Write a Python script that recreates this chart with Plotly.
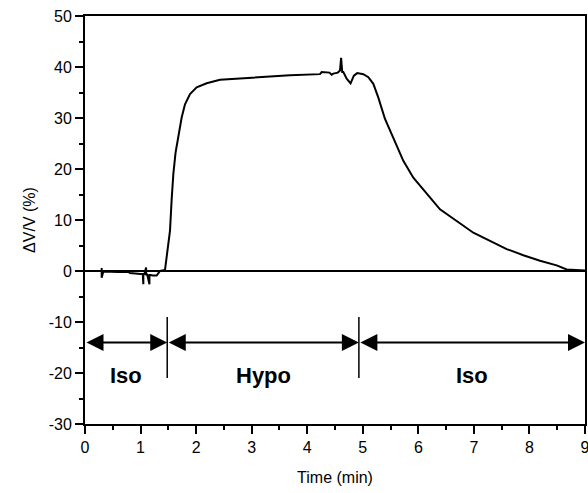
import plotly.graph_objects as go

# Trace: time (min) and relative volume change (%)
time_min = [0.30, 0.30, 0.30, 0.33, 0.45, 0.60, 0.78, 0.81, 1.00, 1.04, 1.05, 1.05,
            1.07, 1.10, 1.10, 1.12, 1.16, 1.16, 1.18, 1.22, 1.29, 1.35, 1.44, 1.47,
            1.50, 1.53, 1.56, 1.59, 1.63, 1.68, 1.74, 1.80, 1.89, 2.01, 2.19, 2.43,
            2.91, 3.33, 3.69, 4.23, 4.26, 4.40, 4.44, 4.47, 4.55, 4.59, 4.61, 4.63,
            4.65, 4.71, 4.78, 4.84, 4.90, 5.01, 5.10, 5.19, 5.28, 5.40, 5.55, 5.73,
            5.91, 6.15, 6.39, 6.69, 6.99, 7.29, 7.59, 7.89, 8.19, 8.49, 8.67, 9.00]
dv_pct = [0.0, 0.6, -1.3, -0.1, -0.2, -0.2, -0.2, -0.4, -0.6, -0.6, -2.6, -0.6,
          -0.6, 0.7, -0.7, -0.7, -2.6, -0.8, -0.8, -0.9, -0.9, 0.0, 0.2, 2.6,
          5.0, 7.9, 14.1, 19.0, 23.2, 26.2, 30.1, 32.7, 34.7, 36.0, 36.8, 37.5,
          37.8, 38.2, 38.4, 38.6, 39.0, 38.9, 38.5, 38.7, 38.9, 39.3, 41.8, 39.0,
          39.0, 37.7, 36.8, 38.3, 38.8, 38.6, 38.0, 36.7, 34.0, 29.8, 26.2, 21.6,
          18.3, 15.1, 12.1, 9.8, 7.5, 5.9, 4.3, 3.1, 2.0, 1.1, 0.3, 0.1]

# Experimental phases
phase_bounds = [0, 1.48, 4.93, 9]
phase_labels = ["Iso", "Hypo", "Iso"]
arrow_level = -14
label_level = -20.5
divider_span = [-9, -21]

x_ticks = [0, 1, 2, 3, 4, 5, 6, 7, 8, 9]
y_ticks = [-30, -20, -10, 0, 10, 20, 30, 40, 50]
y_tick_text = [str(v) for v in y_ticks]

FONT = "Arial, Liberation Sans, sans-serif"

fig = go.Figure()
fig.add_trace(go.Scatter(x=time_min, y=dv_pct, mode="lines",
                         line=dict(color="black", width=2), showlegend=False,
                         cliponaxis=False))

annotations = []
shapes = []
for i, lab in enumerate(phase_labels):
    x0, x1 = phase_bounds[i], phase_bounds[i + 1]
    annotations.append(dict(x=x1, y=arrow_level, ax=x0, ay=arrow_level,
                            xref="x", yref="y", axref="x", ayref="y",
                            showarrow=True, arrowhead=2, startarrowhead=2,
                            arrowside="end+start", arrowsize=1.7, startarrowsize=1.7,
                            arrowwidth=2, arrowcolor="black", text="",
                            standoff=0, startstandoff=0))
    annotations.append(dict(x=(x0 + x1) / 2, y=label_level, xref="x", yref="y",
                            text="<b>%s</b>" % lab, showarrow=False,
                            font=dict(family=FONT, size=22, color="black")))
for b in phase_bounds[1:-1]:
    shapes.append(dict(type="line", xref="x", yref="y", x0=b, x1=b,
                       y0=divider_span[0], y1=divider_span[1],
                       line=dict(color="black", width=1.5)))

fig.update_layout(
    width=588, height=493,
    margin=dict(l=85, r=3, t=16, b=69, autoexpand=False),
    paper_bgcolor="white", plot_bgcolor="white",
    font=dict(family=FONT, size=16, color="black"),
    annotations=annotations, shapes=shapes,
)
fig.update_xaxes(range=[0, 9], tickvals=x_ticks, ticks="outside", ticklen=8,
                 tickwidth=1.5, tickcolor="black", automargin=False,
                 ticklabeloverflow="allow",
                 minor=dict(dtick=0.5, ticks="outside", ticklen=4, tickcolor="black", tickwidth=1.5),
                 showline=True, linewidth=2, linecolor="black", mirror=True,
                 showgrid=False, zeroline=False,
                 title=dict(text="Time (min)", font=dict(size=16), standoff=17))
fig.update_yaxes(range=[-30, 50], tickvals=y_ticks, ticktext=y_tick_text,
                 ticks="outside", ticklen=8,
                 tickwidth=1.5, tickcolor="black", automargin=False,
                 ticklabeloverflow="allow",
                 minor=dict(dtick=5, ticks="outside", ticklen=4, tickcolor="black", tickwidth=1.5),
                 showline=True, linewidth=2, linecolor="black", mirror=True,
                 showgrid=False, zeroline=True, zerolinecolor="black", zerolinewidth=1.5,
                 title=dict(text="ΔV/V (%)", font=dict(size=16), standoff=9))

fig.write_html("out.html", config={"displayModeBar": False},
               post_script="document.body.style.margin='0';document.body.style.overflow='hidden';")
